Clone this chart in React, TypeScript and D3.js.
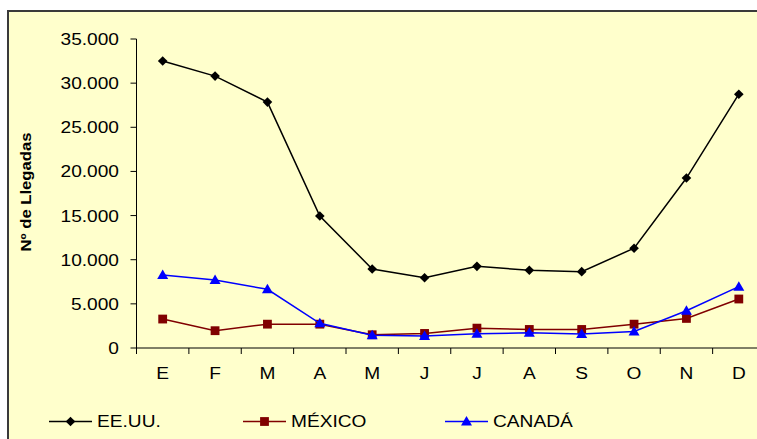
import React from "react";
import * as d3 from "d3";

const months = ["E", "F", "M", "A", "M", "J", "J", "A", "S", "O", "N", "D"];
const eeuu = [32500, 30800, 27850, 14950, 8950, 7950, 9250, 8800, 8650, 11300, 19250, 28750];
const mexico = [3280, 1960, 2700, 2700, 1500, 1650, 2250, 2100, 2100, 2700, 3350, 5550];
const canada = [8270, 7700, 6650, 2800, 1450, 1350, 1600, 1730, 1580, 1880, 4220, 6950];
const yTicks = [0, 5000, 10000, 15000, 20000, 25000, 30000, 35000];
const seriesNames = ["EE.UU.", "MÉXICO", "CANADÁ"];
const yTitle = "Nº de Llegadas";

const W = 757;
const H = 439;
const left = 136.5;
const right = 765;
const top = 39;
const bottom = 348;

const FONT = "Arial, 'Liberation Sans', sans-serif";

function SText({ x, y, size, anchor = "start", bold = false, rotate = 0, sx = 1.18, children }: any) {
  return (
    <text
      transform={`translate(${x},${y}) rotate(${rotate}) scale(${sx},1)`}
      fontSize={size}
      fontFamily={FONT}
      fontWeight={bold ? "bold" : "normal"}
      textAnchor={anchor}
      fill="#000"
    >
      {children}
    </text>
  );
}

function Marker({ kind, x, y, color }: any) {
  if (kind === "diamond") {
    const r = 4.8;
    return <path d={`M${x},${y - r}L${x + r},${y}L${x},${y + r}L${x - r},${y}Z`} fill={color} />;
  }
  if (kind === "square") {
    const r = 4.4;
    return <rect x={x - r} y={y - r} width={2 * r} height={2 * r} fill={color} />;
  }
  const r = 5.5;
  return <path d={`M${x},${y - r}L${x + r},${y + r - 1.5}L${x - r},${y + r - 1.5}Z`} fill={color} />;
}

export default function App() {
  const x = d3.scaleBand<number>().domain(d3.range(12)).range([left, right]);
  const y = d3.scaleLinear().domain([0, 35000]).range([bottom, top]);
  const cx = (i: number) => (x(i) as number) + x.bandwidth() / 2;
  const line = d3
    .line<number>()
    .x((_, i) => cx(i))
    .y((d) => y(d));

  const series = [
    { name: seriesNames[0], data: eeuu, color: "#000000", kind: "diamond", lx: 49 },
    { name: seriesNames[1], data: mexico, color: "#800000", kind: "square", lx: 243 },
    { name: seriesNames[2], data: canada, color: "#0000FF", kind: "triangle", lx: 445 },
  ];

  const xTicks = d3.range(13).map((i) => left + i * x.bandwidth());

  return (
    <svg
      width={W}
      height={H}
      style={{ position: "absolute", left: 0, top: 0, display: "block" }}
    >
      <rect x={0} y={0} width={W} height={H} fill="#fff" />
      <rect x={8} y={11} width={W + 10} height={H + 10} fill="#FFFFCC" stroke="#3a3a3a" strokeWidth={2} />

      {/* y axis */}
      <line x1={left} x2={left} y1={top} y2={bottom} stroke="#000" strokeWidth={1} />
      {yTicks.map((t) => (
        <g key={t}>
          <line x1={left - 6} x2={left} y1={y(t)} y2={y(t)} stroke="#000" />
          <SText x={119} y={y(t) + 6} size={16.5} anchor="end" sx={1.16}>
            {d3.format(",")(t).replace(/,/g, ".")}
          </SText>
        </g>
      ))}

      {/* x axis */}
      <line x1={left} x2={W + 5} y1={bottom} y2={bottom} stroke="#000" strokeWidth={1} />
      {xTicks.map((t, i) => (
        <line key={i} x1={t} x2={t} y1={bottom} y2={bottom + 6} stroke="#000" />
      ))}
      {months.map((m, i) => (
        <SText key={i} x={cx(i)} y={379} size={16.5} anchor="middle" sx={1.16}>
          {m}
        </SText>
      ))}

      <SText x={30.5} y={192} size={14.5} bold anchor="middle" rotate={-90} sx={1.15}>
        {yTitle}
      </SText>

      {series.map((s) => (
        <g key={s.name}>
          <path d={line(s.data) as string} fill="none" stroke={s.color} strokeWidth={1.5} />
          {s.data.map((v, i) => (
            <Marker key={i} kind={s.kind} x={cx(i)} y={y(v)} color={s.color} />
          ))}
        </g>
      ))}

      {/* legend */}
      {series.map((s) => (
        <g key={"lg" + s.name}>
          <line x1={s.lx} x2={s.lx + 43} y1={421.5} y2={421.5} stroke={s.color} strokeWidth={1.5} />
          <Marker kind={s.kind} x={s.lx + 21.5} y={421.5} color={s.color} />
          <SText x={s.lx + 48} y={426.5} size={16.5} sx={1.16}>
            {s.name}
          </SText>
        </g>
      ))}
    </svg>
  );
}
